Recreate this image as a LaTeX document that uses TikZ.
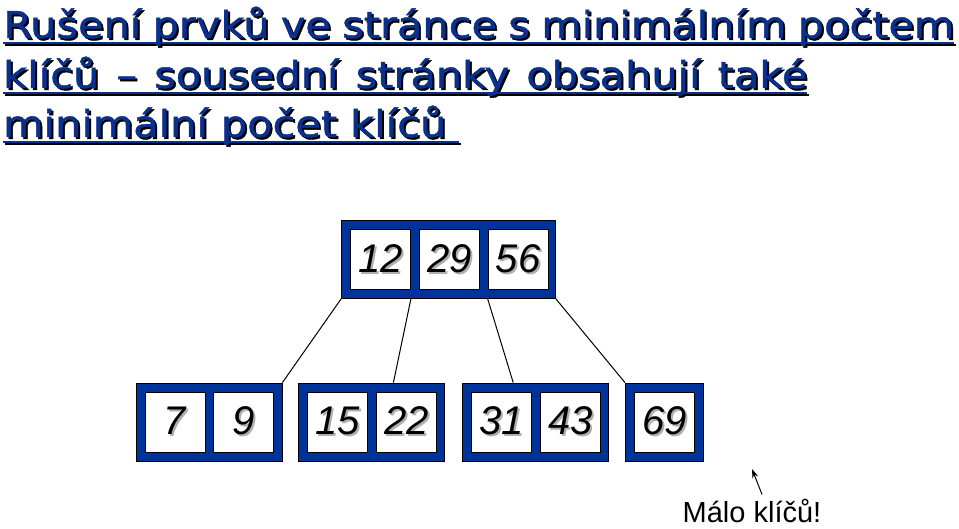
\documentclass[tikz,border=0pt]{standalone}
\usepackage{fontspec}
\setmainfont{Liberation Sans}
\newfontfamily\titlefont[FakeStretch=1.12, FakeBold=1.2]{DejaVu Sans}
\usetikzlibrary{positioning, arrows.meta}

\definecolor{pageblue}{RGB}{0,51,153}
\definecolor{titleblue}{RGB}{10,48,140}
\definecolor{keyshadow}{RGB}{175,175,175}

\newcommand{\ulined}[2]{\setbox0\hbox{\makebox[#1][s]{#2}}\rlap{\rule[-6.5pt]{\wd0}{2.5pt}}\box0}
\newcommand{\titleline}[2]{\rlap{\kern2pt\raisebox{-2pt}{\color{black}\ulined{#1}{#2}}}{\color{titleblue}\ulined{#1}{#2}}}
\newcommand{\keytext}[1]{\rlap{\kern2pt\raisebox{-2pt}{\color{keyshadow}#1}}#1}

\tikzset{
	title/.style = {anchor=base west, inner sep=0pt, font=\titlefont\fontsize{37}{44}\selectfont},
	page/.style = {draw=black, fill=pageblue, line width=0.8pt, minimum height=78pt, inner sep=0pt},
	key/.style = {draw=black, fill=white, line width=0.8pt, minimum width=60pt, minimum height=60pt, inner sep=0pt, font=\fontsize{40}{44}\selectfont\itshape},
	edge/.style = {draw=black, line width=1pt},
	pointer/.style = {draw=black, line width=1pt, -{Stealth[length=9pt, width=6pt]}},
	note/.style = {anchor=base, inner sep=0pt, font=\fontsize{29}{34}\selectfont},
}

\begin{document}
	\begin{tikzpicture}[x=1pt, y=-1pt]
		\useasboundingbox (0,0) rectangle (959,529);

		% title
		\node [title] (title1) at (3,38) {\titleline{951pt}{Rušení prvků ve stránce s minimálním počtem}};
		\node [title] (title2) at (3,88) {\titleline{804pt}{klíčů – sousední stránky obsahují také}};
		\node [title] (title3) at (3,137) {\titleline{456pt}{minimální počet klíčů\ }};

		% root page
		\node [page, minimum width=214pt] (root) at (448.5,259.5) {};
		\node [key, right=9pt of root.west] (k12) {\keytext{12}};
		\node [key, right=8pt of k12] (k29) {\keytext{29}};
		\node [key, right=8pt of k29] (k56) {\keytext{56}};

		% leaf pages
		\node [page, minimum width=146pt] (leafA) at (209,422) {};
		\node [page, minimum width=146pt, right=16pt of leafA] (leafB) {};
		\node [page, minimum width=146pt, right=17pt of leafB] (leafC) {};
		\node [page, minimum width=78pt, right=16pt of leafC] (leafD) {};

		\node [key, right=9pt of leafA.west] (k7) {\keytext{7}};
		\node [key, right=8pt of k7] (k9) {\keytext{9}};
		\node [key, right=9pt of leafB.west] (k15) {\keytext{15}};
		\node [key, right=8pt of k15] (k22) {\keytext{22}};
		\node [key, right=9pt of leafC.west] (k31) {\keytext{31}};
		\node [key, right=8pt of k31] (k43) {\keytext{43}};
		\node [key, right=9pt of leafD.west] (k69) {\keytext{69}};

		% pointers
		\draw [edge] (root.south west) -- (leafA.north east);
		\draw [edge] (k12.east |- root.south) -- ([xshift=95pt]leafB.north west);
		\draw [edge] (k56.west |- root.south) -- ([xshift=51pt]leafC.north west);
		\draw [edge] (root.south east) -- (leafD.north west);

		% note
		\node [note] (note) at (752,522) {Málo klíčů!};
		\coordinate (lack) at (752,469);
		\draw [pointer] ([xshift=10pt, yshift=4pt]note.north) -- (lack);
	\end{tikzpicture}
\end{document}
